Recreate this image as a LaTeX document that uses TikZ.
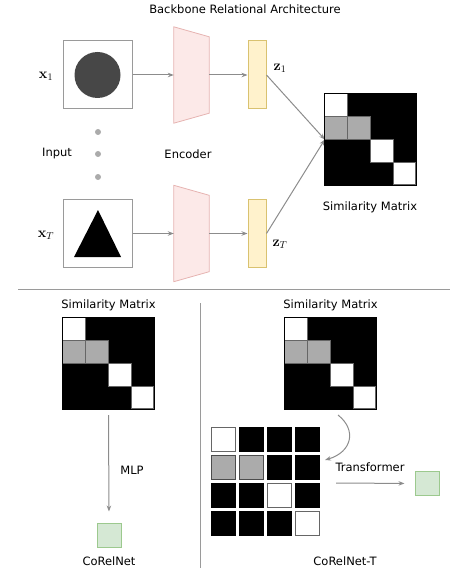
\documentclass[tikz,border=0pt]{standalone}
\usepackage[no-math]{fontspec}
\setmainfont{DejaVu Sans}
\usepackage{xcolor}
\usepackage{tikz}
\usetikzlibrary{arrows.meta, positioning, calc}

\definecolor{linegray}{HTML}{8C8C8C}
\definecolor{boxgray}{HTML}{9A9A9A}
\definecolor{dotgray}{HTML}{ABABAB}
\definecolor{cellgray}{HTML}{ABABAB}
\definecolor{encfill}{HTML}{FCE9E8}
\definecolor{encdraw}{HTML}{E6B3B1}
\definecolor{zfill}{HTML}{FFF2CC}
\definecolor{zdraw}{HTML}{D9C270}
\definecolor{outfill}{HTML}{D5E8D4}
\definecolor{outdraw}{HTML}{9CC98E}

\begin{document}
\begin{tikzpicture}[
    x=1pt, y=-1pt,
    txt/.style={font=\fontsize{11.5}{13}\selectfont, inner sep=0pt},
    mathlbl/.style={font=\fontsize{14}{16}\selectfont, inner sep=0pt},
    inbox/.style={rectangle, draw=boxgray, line width=1pt, fill=white, minimum width=69pt, minimum height=68pt, inner sep=0pt},
    encbox/.style={rectangle, minimum width=35pt, minimum height=76pt, inner sep=0pt},
    encshape/.style={draw=encdraw, fill=encfill, line width=0.8pt},
    zbox/.style={rectangle, draw=zdraw, fill=zfill, line width=1pt, minimum width=18pt, minimum height=68pt, inner sep=0pt},
    simmat/.style={rectangle, fill=black, minimum size=91pt, inner sep=0pt},
    matborder/.style={draw=black, line width=1.2pt},
    outbox/.style={rectangle, draw=outdraw, fill=outfill, line width=1pt, minimum size=24pt, inner sep=0pt},
    gcell/.style={rectangle, line width=1pt, minimum size=24pt, inner sep=0pt},
    cellw/.style={gcell, draw=black!60, fill=white},
    cellg/.style={gcell, draw=black!70, fill=cellgray},
    cellb/.style={gcell, draw=black, fill=black},
    dot/.style={circle, fill=dotgray, minimum size=6pt, inner sep=0pt},
    arrow/.style={-{Stealth[length=6pt, width=4.5pt]}, draw=linegray, line width=1pt}
]
\useasboundingbox (0,0) rectangle (474,572);

% Backbone
\node[txt] (title) at (245,9) {Backbone Relational Architecture};

\node[inbox] (in1) at (97.5,75) {};
\node[inbox] (inT) at (97.5,233.5) {};
\fill[black!72] (in1.center) circle[radius=23pt];
\fill[black] (98,210) -- (121,257) -- (74,257) -- cycle;

\node[mathlbl] (x1) at (46,76) {$\mathbf{x}_1$};
\node[mathlbl] (xT) at (46,235) {$\mathbf{x}_T$};

\node[dot] (d1) at (98,132) {};
\node[dot] (d2) at (98,154) {};
\node[dot] (d3) at (98,177) {};
\node[txt] (input) at (57,154) {Input};

\node[encbox] (enc1) at (191.5,75) {};
\node[encbox] (encT) at (191.5,233.5) {};
\foreach \e in {enc1,encT}
  \draw[encshape] ([yshift=10pt]\e.north west) -- (\e.north east) -- (\e.south east) -- ([yshift=-10pt]\e.south west) -- cycle;
\node[txt] (encoder) at (188,154) {Encoder};

\node[zbox] (z1) at (257,75) {};
\node[zbox] (zT) at (257,233.5) {};
\node[mathlbl] (z1lbl) at (280,68) {$\mathbf{z}_1$};
\node[mathlbl] (zTlbl) at (280,244) {$\mathbf{z}_T$};

\node[simmat] (simA) at (370.5,139.5) {};
\node[txt] (simAlbl) at (370,207) {Similarity Matrix};

\draw[arrow] (in1) -- (enc1);
\draw[arrow] (enc1) -- (z1);
\draw[arrow] (inT) -- (encT);
\draw[arrow] (encT) -- (zT);
\draw[arrow] (z1.east) -- (simA.west);
\draw[arrow] (zT.east) -- (simA.west);

% Divider
\draw[boxgray, line width=1pt] (18,289) -- (450,289);
\draw[boxgray, line width=1pt] (200,303) -- (200,568);

% CoRelNet
\node[simmat] (simB) at (108.5,363.5) {};
\node[txt, above=7pt of simB] (simBlbl) {Similarity Matrix};
\node[outbox] (outB) at (109,535) {};
\node[txt] (mlp) at (132,470) {MLP};
\node[txt, below=9pt of outB] (corel) {CoRelNet};
\draw[arrow, shorten <=6pt, shorten >=11pt] (simB.south) -- (outB.north);

% CoRelNet-T
\node[simmat] (simC) at (330.5,363.5) {};
\node[txt, above=7pt of simC] (simClbl) {Similarity Matrix};
\foreach \r/\row in {0/{w,b,b,b}, 1/{g,g,b,b}, 2/{b,b,w,b}, 3/{b,b,b,w}}
  \foreach \s [count=\c from 0] in \row
    \node[cell\s] (g-\r-\c) at (223+\c*28.3, 439+\r*28.3) {};
\coordinate (bendA) at (338,415);
\coordinate (bendB) at (325,460);
\draw[arrow] (bendA) .. controls (357,430) and (352,452) .. (bendB);
\node[txt] (transf) at (370,467) {Transformer};
\node[outbox] (outC) at (427,483.5) {};
\coordinate (tstart) at (336,483);
\draw[arrow, shorten >=10pt] (tstart) -- (outC.west);
\node[txt] (corelT) at (345,561) {CoRelNet-T};

% Matrix cells
\foreach \m in {simA,simB,simC} {
  \foreach \r/\c/\col in {0/0/white, 1/0/cellgray, 1/1/cellgray, 2/2/white, 3/3/white}
    \draw[draw=black!60, line width=1pt, fill=\col] ($(\m.north west)+(\c*22.75,\r*22.75)$) rectangle +(22.75,22.75);
  \draw[matborder] (\m.north west) rectangle (\m.south east);
}

\end{tikzpicture}
\end{document}
